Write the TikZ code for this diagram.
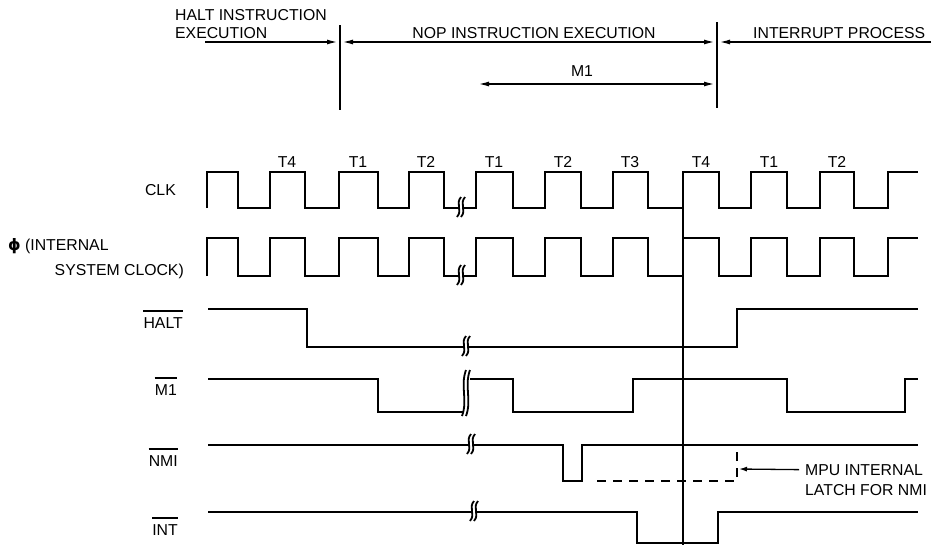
\documentclass[tikz,border=0pt]{standalone}
\usepackage{fontspec}
\setmainfont{Liberation Sans}
\newfontfamily\phifont{DejaVu Sans}
\usetikzlibrary{arrows.meta}

% break mark on a waveform: x, y, half height
\newcommand{\wbreak}[3]{%
  \fill[white] ({#1-3},{#2+#3}) .. controls ({#1+3},{#2+0.3*#3}) and ({#1-5},{#2-0.3*#3}) .. ({#1+1},{#2-#3})
    -- ({#1+5},{#2-#3}) .. controls ({#1-1},{#2-0.3*#3}) and ({#1+7},{#2+0.3*#3}) .. ({#1+1},{#2+#3}) -- cycle;
  \draw[brk] ({#1-3},{#2+#3}) .. controls ({#1+3},{#2+0.3*#3}) and ({#1-5},{#2-0.3*#3}) .. ({#1+1},{#2-#3});
  \draw[brk] ({#1+1},{#2+#3}) .. controls ({#1+7},{#2+0.3*#3}) and ({#1-1},{#2-0.3*#3}) .. ({#1+5},{#2-#3});
}

\begin{document}
\begin{tikzpicture}[
    x=1pt, y=-1pt,
    > = {Latex[length=11pt,width=5pt]},
    txt/.style = {inner sep=0pt, font=\fontsize{15.8}{18}\selectfont},
    sig/.style = {txt, anchor=base east},
    tlab/.style = {txt, anchor=base},
    wave/.style = {line width=2.3pt, line join=miter},
    brk/.style = {line width=1.8pt},
    bar/.style = {line width=2.2pt},
    span/.style = {line width=1.7pt},
    cutline/.style = {line width=1.9pt},
    latch/.style = {line width=1.9pt, dash pattern=on 9pt off 7pt}
    ]
    \useasboundingbox (0,0) rectangle (933,547);

    % phases on top
    \node[txt, anchor=base west] (haltA) at (175,20) {HALT INSTRUCTION};
    \node[txt, anchor=base west] (haltB) at (175,38) {EXECUTION};
    \node[txt, anchor=base] (nop) at (534,38) {NOP INSTRUCTION EXECUTION};
    \node[txt, anchor=base west] (irq) at (753,38) {INTERRUPT PROCESS};
    \node[txt, anchor=base] (m1lab) at (582,76) {M1};

    \coordinate (haltS) at (205,42);
    \coordinate (haltE) at (338,42);
    \coordinate (nopS) at (342,42);
    \coordinate (nopE) at (715,42);
    \coordinate (irqS) at (719,42);
    \coordinate (irqE) at (931,42);
    \coordinate (m1S) at (478,84);
    \coordinate (m1E) at (715,84);
    \coordinate (cutAtop) at (340,25);
    \coordinate (cutAbot) at (340,110);
    \coordinate (cutBtop) at (717,22);
    \coordinate (cutBbot) at (717,108);

    \draw[span,->] (haltS) -- (haltE);
    \draw[span,<->] (nopS) -- (nopE);
    \draw[span,->] (irqE) -- (irqS);
    \draw[span,<->] (m1S) -- (m1E);
    \draw[cutline] (cutAtop) -- (cutAbot);
    \draw[cutline] (cutBtop) -- (cutBbot);

    % signal names
    \node[sig] (clk) at (176,195) {CLK};
    \node[sig, anchor=base west] (phi) at (8,250) {{\phifont\bfseries ϕ} (INTERNAL};
    \node[sig] (sys) at (184,275) {SYSTEM CLOCK)};
    \node[sig] (halt) at (183,328) {HALT};
    \node[sig] (m1) at (177,395) {M1};
    \node[sig] (nmi) at (178,466) {NMI};
    \node[sig] (intr) at (178,535) {INT};
    \foreach \s in {halt,m1,nmi,intr}
        \draw[bar] ([yshift=6pt]\s.north west) -- ([yshift=6pt]\s.north east);

    % T states
    \foreach \x/\t in {287/T4,358/T1,426/T2,494/T1,563/T2,630/T3,701/T4,769/T1,837/T2}
        \node[tlab] (t\x) at (\x,167) {\t};

    % CLK and phi
    \foreach \hi/\lo in {172/208,238/276}
        \draw[wave] (207,\lo) foreach \r/\f in {207/238,270/305,339/378,409/444,476/513,545/581,613/648,683/719,751/787,820/854}
            { -- (\r,\lo) -- (\r,\hi) -- (\f,\hi) -- (\f,\lo) } -- (888,\lo) -- (888,\hi) -- (918,\hi);

    % HALT, M1, NMI, INT
    \draw[wave] (208,309) -- (307,309) -- (307,347) -- (737,347) -- (737,309) -- (918,309);
    \draw[wave] (208,379) -- (378,379) -- (378,412) -- (463,412);
    \draw[wave] (470,379) -- (513,379) -- (513,412) -- (633,412) -- (633,379) -- (787,379)
        -- (787,412) -- (905,412) -- (905,379) -- (918,379);
    \draw[wave] (208,445) -- (563,445) -- (563,481) -- (582,481) -- (582,445) -- (918,445);
    \draw[wave] (208,512) -- (637,512) -- (637,543) -- (718,543) -- (718,512) -- (918,512);

    % breaks
    \wbreak{460}{207}{10}
    \wbreak{460}{275}{10}
    \wbreak{465}{346}{10}
    \wbreak{465}{393}{23}
    \wbreak{470}{444}{10}
    \wbreak{473}{511}{10}

    % T4 marker
    \coordinate (t4top) at (683,172);
    \coordinate (t4bot) at (683,545);
    \draw[cutline] (t4top) -- (t4bot);

    % NMI latch
    \coordinate (latchL) at (597,481);
    \coordinate (latchC) at (737,481);
    \coordinate (latchT) at (737,450);
    \coordinate (latchP) at (739,469);
    \draw[latch] (latchL) -- (latchC) -- (latchT);
    \node[txt, anchor=base west] (mpuA) at (805,475) {MPU INTERNAL};
    \node[txt, anchor=base west] (mpuB) at (805,495) {LATCH FOR NMI};
    \draw[line width=1.3pt, -{Latex[length=8pt,width=5pt]}] ([xshift=-6pt]mpuA.west) -- (latchP);
\end{tikzpicture}
\end{document}
